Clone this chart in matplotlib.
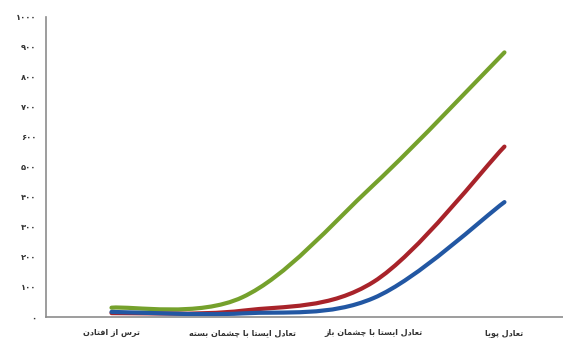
import matplotlib.pyplot as plt
from matplotlib.path import Path
from matplotlib.patches import PathPatch

categories = ["ترس از افتادن", "تعادل ایستا با چشمان بسته",
              "تعادل ایستا با چشمان باز", "تعادل پویا"]
green_vals = [31, 66, 440, 882]
red_vals = [13, 21, 117, 568]
blue_vals = [17, 12, 63, 383]
y_ticks = list(range(0, 1001, 100))

# arabic presentation forms: isolated, final, initial, medial
FORMS = {
    "ا": ("\ufe8d", "\ufe8e", None, None),
    "ب": ("\ufe8f", "\ufe90", "\ufe91", "\ufe92"),
    "پ": ("\ufb56", "\ufb57", "\ufb58", "\ufb59"),
    "ت": ("\ufe95", "\ufe96", "\ufe97", "\ufe98"),
    "چ": ("\ufb7a", "\ufb7b", "\ufb7c", "\ufb7d"),
    "د": ("\ufea9", "\ufeaa", None, None),
    "ر": ("\ufead", "\ufeae", None, None),
    "ز": ("\ufeaf", "\ufeb0", None, None),
    "س": ("\ufeb1", "\ufeb2", "\ufeb3", "\ufeb4"),
    "ش": ("\ufeb5", "\ufeb6", "\ufeb7", "\ufeb8"),
    "ع": ("\ufec9", "\ufeca", "\ufecb", "\ufecc"),
    "ف": ("\ufed1", "\ufed2", "\ufed3", "\ufed4"),
    "ل": ("\ufedd", "\ufede", "\ufedf", "\ufee0"),
    "م": ("\ufee1", "\ufee2", "\ufee3", "\ufee4"),
    "ن": ("\ufee5", "\ufee6", "\ufee7", "\ufee8"),
    "ه": ("\ufee9", "\ufeea", "\ufeeb", "\ufeec"),
    "و": ("\ufeed", "\ufeee", None, None),
    "ی": ("\ufbfc", "\ufbfd", "\ufbfe", "\ufbff"),
}


def shape(text):
    out = []
    for i, ch in enumerate(text):
        if ch not in FORMS:
            out.append(ch)
            continue
        prev = text[i - 1] if i > 0 else ""
        nxt = text[i + 1] if i + 1 < len(text) else ""
        iso, fin, ini, med = FORMS[ch]
        jp = prev in FORMS and FORMS[prev][2] is not None
        jn = nxt in FORMS and ini is not None
        if jp and jn:
            out.append(med)
        elif jp:
            out.append(fin)
        elif jn:
            out.append(ini)
        else:
            out.append(iso)
    return "".join(reversed(out))


def fa_digits(n):
    return str(n).translate(str.maketrans("0123456789", "۰۱۲۳۴۵۶۷۸۹"))


def smooth_path(xs, ys):
    # excel style smoothed line as cubic bezier segments
    pts = list(zip(xs, ys))
    verts = [pts[0]]
    codes = [Path.MOVETO]
    n = len(pts)
    for i in range(n - 1):
        p0 = pts[max(i - 1, 0)]
        p1 = pts[i]
        p2 = pts[i + 1]
        p3 = pts[min(i + 2, n - 1)]
        c1 = (p1[0] + (p2[0] - p0[0]) / 6, p1[1] + (p2[1] - p0[1]) / 6)
        c2 = (p2[0] - (p3[0] - p1[0]) / 6, p2[1] - (p3[1] - p1[1]) / 6)
        verts += [c1, c2, p2]
        codes += [Path.CURVE4] * 3
    return Path(verts, codes)


fig = plt.figure(figsize=(5.63, 3.38), dpi=100)
ax = fig.add_axes([46 / 563, 21 / 338, 517 / 563, 300 / 338])

x = list(range(len(categories)))
for vals, color in [(green_vals, "#75a12c"), (red_vals, "#a8232a"), (blue_vals, "#2257a3")]:
    patch = PathPatch(smooth_path(x, vals), facecolor="none", edgecolor=color,
                      lw=3.0, capstyle="round", joinstyle="round")
    ax.add_patch(patch)

ax.set_xlim(-0.5, 3.447)
ax.set_ylim(0, 1000)
ax.set_yticks(y_ticks)
ax.set_yticklabels([fa_digits(v) for v in y_ticks], fontsize=6, fontweight="bold", color="#333333")
ax.set_xticks(x)
ax.set_xticklabels([shape(c) for c in categories], fontsize=5.8, fontweight="bold", color="#333333")
ax.tick_params(axis="both", length=0)
ax.tick_params(axis="x", pad=8)
ax.tick_params(axis="y", pad=7)

for s in ["top", "right"]:
    ax.spines[s].set_visible(False)
for s in ["left", "bottom"]:
    ax.spines[s].set_color("#8c8c8c")
    ax.spines[s].set_linewidth(1.2)

fig.savefig("out.png", dpi=100)
